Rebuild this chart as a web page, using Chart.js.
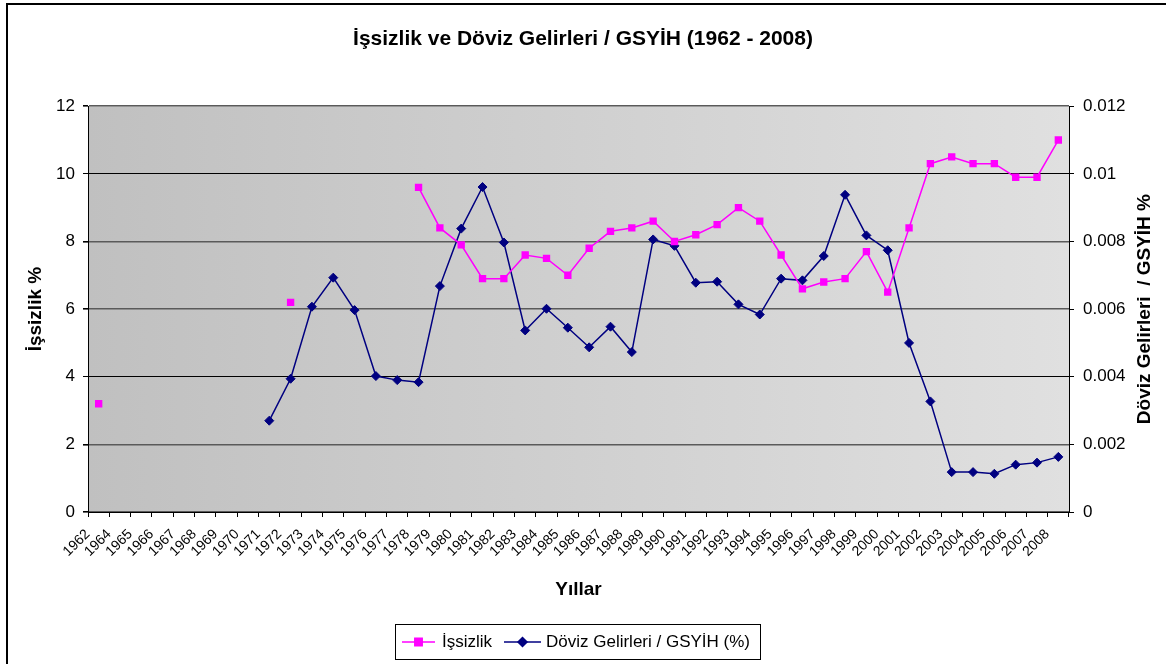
<!DOCTYPE html>
<html lang="tr">
<head>
<meta charset="utf-8">
<title>İşsizlik ve Döviz Gelirleri / GSYİH (1962 - 2008)</title>
<script src="https://cdn.jsdelivr.net/npm/chart.js@4.4.1/dist/chart.umd.min.js"></script>
<style>
    html, body { margin: 0; padding: 0; background: #fff; }
    #grafik { display: block; }
</style>
</head>
<body>
<canvas id="grafik" width="1166" height="664"></canvas>
<script>
// Yıllar (1963 yok)
const years = [
    '1962', '1964', '1965', '1966', '1967', '1968', '1969', '1970', '1971', '1972',
    '1973', '1974', '1975', '1976', '1977', '1978', '1979', '1980', '1981', '1982',
    '1983', '1984', '1985', '1986', '1987', '1988', '1989', '1990', '1991', '1992',
    '1993', '1994', '1995', '1996', '1997', '1998', '1999', '2000', '2001', '2002',
    '2003', '2004', '2005', '2006', '2007', '2008'
];

// İşsizlik % (sol eksen)
const unemployment = [
    3.2, null, null, null, null, null, null, null, null, 6.2,
    null, null, null, null, null, 9.6, 8.4, 7.9, 6.9, 6.9,
    7.6, 7.5, 7.0, 7.8, 8.3, 8.4, 8.6, 8.0, 8.2, 8.5,
    9.0, 8.6, 7.6, 6.6, 6.8, 6.9, 7.7, 6.5, 8.4, 10.3,
    10.5, 10.3, 10.3, 9.9, 9.9, 11.0
];

// Döviz Gelirleri / GSYİH (sağ eksen)
const fxIncome = [
    null, null, null, null, null, null, null, null, 0.0027, 0.00394,
    0.00607, 0.00693, 0.00597, 0.00402, 0.0039, 0.00384, 0.00668, 0.00838, 0.00961, 0.00797,
    0.00537, 0.00601, 0.00545, 0.00487, 0.00548, 0.00473, 0.00806, 0.00787, 0.00678, 0.00681,
    0.00614, 0.00584, 0.0069, 0.00685, 0.00757, 0.00938, 0.00818, 0.00774, 0.005, 0.00327,
    0.00118, 0.00118, 0.00113, 0.0014, 0.00146, 0.00163
];

// Eksen değerleri
const leftTicks = [0, 2, 4, 6, 8, 10, 12];
const rightTicks = [0, 0.002, 0.004, 0.006, 0.008, 0.01, 0.012];

const FONT = 'Liberation Sans, Arial, sans-serif';
const MAGENTA = '#ff00ff';
const NAVY = '#000080';

// Arka plan, çerçeve ve gri degrade çizim alanı
const backgroundPlugin = {
    id: 'backgroundPlugin',
    beforeDraw(chart) {
        const { ctx, chartArea: a } = chart;
        ctx.save();
        ctx.fillStyle = '#fff';
        ctx.fillRect(0, 0, chart.width, chart.height);
        ctx.strokeStyle = '#000';
        ctx.lineWidth = 2;
        ctx.strokeRect(7, 4, chart.width + 20, chart.height + 20);
        const gradient = ctx.createLinearGradient(a.left, 0, a.right, 0);
        gradient.addColorStop(0, '#c0c0c0');
        gradient.addColorStop(1, '#e0e0e0');
        ctx.fillStyle = gradient;
        ctx.fillRect(a.left, a.top, a.right - a.left, a.bottom - a.top);
        ctx.restore();
    }
};

// Sağ eksen başlığı (aşağıdan yukarı okunur) ve çerçeveli gösterge
const extrasPlugin = {
    id: 'extrasPlugin',
    afterDraw(chart) {
        const { ctx, chartArea: a } = chart;
        ctx.save();
        ctx.fillStyle = '#000';
        ctx.font = 'bold 19px ' + FONT;
        ctx.textAlign = 'center';
        ctx.textBaseline = 'middle';
        ctx.translate(1145, (a.top + a.bottom) / 2);
        ctx.rotate(-Math.PI / 2);
        ctx.fillText('Döviz Gelirleri  / GSYİH %', 0, 0);
        ctx.restore();

        // Gösterge kutusu
        ctx.save();
        ctx.strokeStyle = '#000';
        ctx.lineWidth = 1;
        ctx.strokeRect(395.5, 624.5, 365, 35);
        const y = 642;
        const items = [
            { x1: 402, x2: 435, textX: 442 },
            { x1: 504, x2: 541, textX: 546 }
        ];
        chart.data.datasets.forEach((ds, i) => {
            const it = items[i];
            ctx.strokeStyle = ds.borderColor;
            ctx.lineWidth = 1.5;
            ctx.beginPath();
            ctx.moveTo(it.x1, y);
            ctx.lineTo(it.x2, y);
            ctx.stroke();
            Chart.helpers.drawPoint(ctx, {
                pointStyle: ds.pointStyle,
                radius: ds.pointRadius,
                borderWidth: 1
            }, (it.x1 + it.x2) / 2, y);
            ctx.fillStyle = ds.borderColor;
            ctx.fill();
            ctx.fillStyle = '#000';
            ctx.font = '17px ' + FONT;
            ctx.textAlign = 'left';
            ctx.textBaseline = 'middle';
            ctx.fillText(ds.label, it.textX, y);
        });
        ctx.restore();
    }
};

const ctx = document.getElementById('grafik').getContext('2d');
const chart = new Chart(ctx, {
    type: 'line',
    data: {
        labels: years,
        datasets: [
            {
                label: 'İşsizlik',
                data: unemployment,
                yAxisID: 'y',
                borderColor: MAGENTA,
                backgroundColor: MAGENTA,
                borderWidth: 1.5,
                pointStyle: 'rect',
                pointRadius: 5.2,
                pointBorderWidth: 0,
                pointBackgroundColor: MAGENTA,
                tension: 0,
                spanGaps: false
            },
            {
                label: 'Döviz Gelirleri / GSYİH (%)',
                data: fxIncome,
                yAxisID: 'y1',
                borderColor: NAVY,
                backgroundColor: NAVY,
                borderWidth: 1.5,
                pointStyle: 'rectRot',
                pointRadius: 4.5,
                pointBorderWidth: 1,
                pointBackgroundColor: NAVY,
                tension: 0,
                spanGaps: false
            }
        ]
    },
    options: {
        responsive: false,
        animation: false,
        layout: { padding: { top: 0, left: 0, right: 0, bottom: 52 } },
        plugins: {
            legend: { display: false },
            tooltip: { enabled: false },
            title: {
                display: true,
                text: 'İşsizlik ve Döviz Gelirleri / GSYİH (1962 - 2008)',
                color: '#000',
                font: { family: FONT, size: 21, weight: 'bold' },
                padding: { top: 27, bottom: 54 }
            }
        },
        scales: {
            x: {
                offset: true,
                grid: {
                    offset: true,
                    drawOnChartArea: false,
                    tickLength: 5,
                    tickColor: '#000'
                },
                border: { color: '#000', width: 1 },
                ticks: {
                    autoSkip: false,
                    minRotation: 45,
                    maxRotation: 45,
                    labelOffset: -11,
                    padding: 9,
                    color: '#000',
                    font: { family: FONT, size: 14 }
                },
                title: {
                    display: true,
                    text: 'Yıllar',
                    color: '#000',
                    font: { family: FONT, size: 19, weight: 'bold' },
                    padding: { top: 0, bottom: 11 }
                },
                afterFit: (scale) => { scale.height = 100; }
            },
            y: {
                position: 'left',
                min: 0,
                max: 12,
                afterBuildTicks: (scale) => { scale.ticks = leftTicks.map(v => ({ value: v })); },
                grid: {
                    color: (c) => (c.tick && (c.tick.value === 10 || c.tick.value === 4)) ? '#000' : '#5a5a5a',
                    lineWidth: (c) => (c.tick && (c.tick.value === 10 || c.tick.value === 4)) ? 1 : 1.6,
                    tickLength: 5,
                    tickColor: '#000'
                },
                border: { color: '#000', width: 1 },
                ticks: {
                    padding: 8,
                    color: '#000',
                    font: { family: FONT, size: 17 }
                },
                title: {
                    display: true,
                    text: 'İşsizlik %',
                    color: '#000',
                    font: { family: FONT, size: 19, weight: 'bold' },
                    padding: { top: 24, bottom: 0 }
                },
                afterFit: (scale) => { scale.width = 88; }
            },
            y1: {
                position: 'right',
                min: 0,
                max: 0.012,
                afterBuildTicks: (scale) => { scale.ticks = rightTicks.map(v => ({ value: v })); },
                grid: {
                    drawOnChartArea: false,
                    tickLength: 5,
                    tickColor: '#000'
                },
                border: { color: '#000', width: 1 },
                ticks: {
                    padding: 9,
                    color: '#000',
                    font: { family: FONT, size: 17 },
                    callback: (value) => String(+value.toFixed(3))
                },
                afterFit: (scale) => { scale.width = 97; }
            }
        }
    },
    plugins: [backgroundPlugin, extrasPlugin]
});
</script>
</body>
</html>
